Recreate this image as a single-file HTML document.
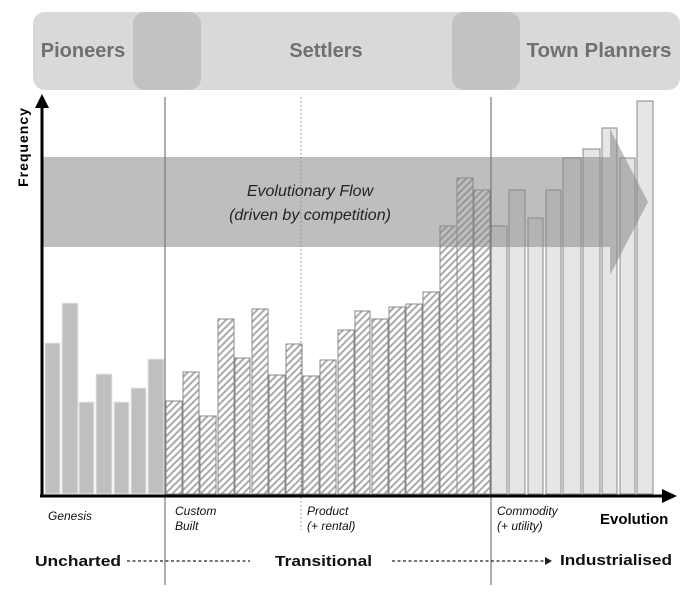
<!DOCTYPE html>
<html><head><meta charset="utf-8"><style>
body{margin:0;background:#fff}
svg text{font-family:"Liberation Sans",sans-serif}
</style></head><body>
<svg width="700" height="598" viewBox="0 0 700 598" xmlns="http://www.w3.org/2000/svg">
<defs>
<pattern id="h" width="5" height="5" patternUnits="userSpaceOnUse" patternTransform="rotate(45)">
<rect width="5" height="5" fill="#fff"/><rect width="2" height="5" fill="#aaa"/>
</pattern>
</defs>
<rect x="33" y="12" width="647" height="78" rx="12" fill="#d9d9d9"/>
<rect x="133" y="12" width="68" height="78" rx="12" fill="#c2c2c2"/>
<rect x="452" y="12" width="68" height="78" rx="12" fill="#c2c2c2"/>
<g font-weight="bold" font-size="20" fill="#707070" text-anchor="middle">
<text x="83" y="57">Pioneers</text>
<text x="326" y="57">Settlers</text>
<text x="599" y="57" textLength="145" lengthAdjust="spacingAndGlyphs">Town Planners</text>
</g>
<g fill="#bfbfbf" stroke="#e8e8e8" stroke-width="1">
<rect x="45" y="343" width="15" height="151"/>
<rect x="62" y="303" width="16" height="191"/>
<rect x="79" y="402" width="15" height="92"/>
<rect x="96" y="374" width="16" height="120"/>
<rect x="114" y="402" width="15" height="92"/>
<rect x="131" y="388" width="15" height="106"/>
<rect x="148" y="359" width="16" height="135"/>
</g>
<g fill="url(#h)" stroke="#888" stroke-width="1">
<rect x="166" y="401" width="16" height="93"/>
<rect x="183" y="372" width="16" height="122"/>
<rect x="200" y="416" width="16" height="78"/>
<rect x="218" y="319" width="16" height="175"/>
<rect x="235" y="358" width="15" height="136"/>
<rect x="252" y="309" width="16" height="185"/>
<rect x="269" y="375" width="16" height="119"/>
<rect x="286" y="344" width="16" height="150"/>
<rect x="303" y="376" width="16" height="118"/>
<rect x="320" y="360" width="16" height="134"/>
<rect x="338" y="330" width="16" height="164"/>
<rect x="355" y="311" width="15" height="183"/>
<rect x="372" y="319" width="16" height="175"/>
<rect x="389" y="307" width="16" height="187"/>
<rect x="406" y="304" width="16" height="190"/>
<rect x="423" y="292" width="16" height="202"/>
<rect x="440" y="226" width="17" height="268"/>
<rect x="457" y="178" width="16" height="316"/>
<rect x="474" y="190" width="16" height="304"/>
</g>
<g fill="#e6e6e6" stroke="#888" stroke-width="1">
<rect x="491" y="226" width="16" height="268"/>
<rect x="509" y="190" width="16" height="304"/>
<rect x="528" y="218" width="15" height="276"/>
<rect x="546" y="190" width="15" height="304"/>
<rect x="563" y="158" width="18" height="336"/>
<rect x="583" y="149" width="17" height="345"/>
<rect x="602" y="128" width="15" height="366"/>
<rect x="620" y="158" width="15" height="336"/>
<rect x="637" y="101" width="16" height="393"/>
</g>
<path d="M42 157 H610 V129 L648 202 L610 275 V247 H42 Z" fill="#888" opacity="0.55"/>
<g font-style="italic" font-size="16" fill="#222" text-anchor="middle">
<text x="310" y="196">Evolutionary Flow</text>
<text x="310" y="220">(driven by competition)</text>
</g>
<line x1="165" y1="97" x2="165" y2="585" stroke="#777" stroke-width="1.2"/>
<line x1="491" y1="97" x2="491" y2="585" stroke="#777" stroke-width="1.2"/>
<line x1="301" y1="97" x2="301" y2="530" stroke="#888" stroke-width="1" stroke-dasharray="1.5,2.5"/>
<line x1="42" y1="106" x2="42" y2="497" stroke="#000" stroke-width="3"/>
<path d="M35 108 L42 94 L49 108 Z" fill="#000"/>
<line x1="40" y1="496" x2="664" y2="496" stroke="#000" stroke-width="3"/>
<path d="M662 489 L677 496 L662 503 Z" fill="#000"/>
<text transform="translate(28,147) rotate(-90)" font-weight="bold" font-size="14" text-anchor="middle" letter-spacing="1">Frequency</text>
<g font-style="italic" font-size="12" fill="#111">
<text x="48" y="520">Genesis</text>
<text x="175" y="515">Custom</text>
<text x="175" y="530">Built</text>
<text x="307" y="515">Product</text>
<text x="307" y="530">(+ rental)</text>
<text x="497" y="515">Commodity</text>
<text x="497" y="530">(+ utility)</text>
</g>
<text x="600" y="524" font-weight="bold" font-size="15">Evolution</text>
<g font-weight="bold" font-size="15" fill="#111">
<text x="35" y="566" textLength="86" lengthAdjust="spacingAndGlyphs">Uncharted</text>
<text x="275" y="566" textLength="97" lengthAdjust="spacingAndGlyphs">Transitional</text>
<text x="560" y="565" textLength="112" lengthAdjust="spacingAndGlyphs">Industrialised</text>
</g>
<line x1="127" y1="561" x2="250" y2="561" stroke="#222" stroke-width="1.2" stroke-dasharray="3,2.5"/>
<line x1="392" y1="561" x2="546" y2="561" stroke="#222" stroke-width="1.2" stroke-dasharray="3,2.5"/>
<path d="M545 557 L552 561 L545 565 Z" fill="#222"/>
</svg>
</body></html>
